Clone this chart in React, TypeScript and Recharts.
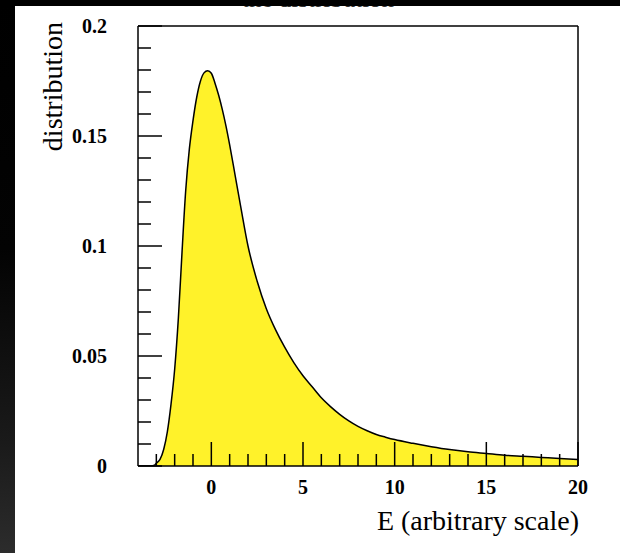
import React from 'react';
import { AreaChart, Area, XAxis, YAxis, ReferenceLine } from 'recharts';

const energy = [
  -4, -3.5, -3.3, -3.1, -3.0, -2.8, -2.6, -2.4, -2.2, -2.0, -1.8, -1.6, -1.4, -1.2, -1.0,
  -0.8, -0.6, -0.4, -0.2, 0.0, 0.2, 0.4, 0.6, 0.8, 1.0, 1.3, 1.6, 2.0, 2.5, 3.0, 3.5,
  4.0, 4.5, 5.0, 5.5, 6.0, 6.5, 7.0, 7.5, 8.0, 8.5, 9.0, 9.5, 10, 11, 12, 13, 14, 15,
  16, 17, 18, 19, 20,
];
const density = [
  0, 0, 0, 0.0004, 0.0013, 0.003, 0.0075, 0.0155, 0.028, 0.044, 0.067, 0.097, 0.125, 0.144, 0.157,
  0.1675, 0.1748, 0.1787, 0.1797, 0.1785, 0.174, 0.1685, 0.162, 0.1545, 0.146, 0.132, 0.118, 0.1, 0.084, 0.0715, 0.062,
  0.054, 0.047, 0.041, 0.036, 0.031, 0.027, 0.0235, 0.0205, 0.018, 0.016, 0.0143, 0.0131, 0.012, 0.0103, 0.0088, 0.0075, 0.0065, 0.0057,
  0.0049, 0.0044, 0.0039, 0.0034, 0.003,
];

const xTicks = [-3, -2, -1, 0, 1, 2, 3, 4, 5, 6, 7, 8, 9, 10, 11, 12, 13, 14, 15, 16, 17, 18, 19, 20];
const xLabels = [0, 5, 10, 15, 20];
const yTicks = [
  0, 0.01, 0.02, 0.03, 0.04, 0.05, 0.06, 0.07, 0.08, 0.09, 0.1,
  0.11, 0.12, 0.13, 0.14, 0.15, 0.16, 0.17, 0.18, 0.19, 0.2,
];
const yLabels = [0, 0.05, 0.1, 0.15, 0.2];
const yLabelText = ['0', '0.05', '0.1', '0.15', '0.2'];

const data = energy.map((e, i) => ({ e, d: density[i] }));

const FONT = '"Liberation Serif", "Times New Roman", serif';

const XTick = (props: any) => {
  const { x, y, payload } = props;
  const v = payload.value;
  const major = xLabels.some((l) => Math.abs(l - v) < 1e-9);
  return (
    <g>
      <line x1={x} x2={x} y1={y} y2={y - (major ? 24 : 12)} stroke="#000" strokeWidth={1.5} />
      {major && (
        <text x={x} y={y + 28} textAnchor="middle" fontFamily={FONT} fontSize={20} fontWeight="bold" fill="#000">
          {String(v)}
        </text>
      )}
    </g>
  );
};

const YTick = (props: any) => {
  const { x, y, payload } = props;
  const v = payload.value;
  const idx = yLabels.findIndex((l) => Math.abs(l - v) < 1e-9);
  const major = idx >= 0;
  return (
    <g>
      <line x1={x} x2={x + (major ? 24 : 13)} y1={y} y2={y} stroke="#000" strokeWidth={1.5} />
      {major && (
        <text x={x - 31} y={y + 7} textAnchor="end" fontFamily={FONT} fontSize={20} fontWeight="bold" fill="#000">
          {yLabelText[idx]}
        </text>
      )}
    </g>
  );
};

export default function App() {
  return (
    <div
      style={{
        position: 'absolute',
        left: 0,
        top: 0,
        width: 620,
        height: 553,
        background: '#fff',
        overflow: 'hidden',
      }}
    >
      <div style={{ position: 'absolute', left: 0, top: 0 }}>
        <AreaChart width={620} height={553} data={data} margin={{ top: 26, right: 42, bottom: 27, left: 38 }}>
          <Area
            type="monotone"
            dataKey="d"
            stroke="#000"
            strokeWidth={1.5}
            fill="#FFF22A"
            fillOpacity={1}
            isAnimationActive={false}
            dot={false}
            activeDot={false}
          />
          <ReferenceLine y={0.2} stroke="#000" strokeWidth={1.5} />
          <ReferenceLine x={20} stroke="#000" strokeWidth={1.5} />
          <XAxis
            type="number"
            dataKey="e"
            domain={[-4, 20]}
            allowDataOverflow
            ticks={xTicks}
            interval={0}
            tickSize={0}
            tickMargin={0}
            tickLine={false}
            tick={<XTick />}
            axisLine={{ stroke: '#000', strokeWidth: 1.5 }}
            height={60}
          />
          <YAxis
            type="number"
            domain={[0, 0.2]}
            allowDataOverflow
            ticks={yTicks}
            interval={0}
            tickSize={0}
            tickMargin={0}
            tickLine={false}
            tick={<YTick />}
            axisLine={{ stroke: '#000', strokeWidth: 1.5 }}
            width={100}
          />
        </AreaChart>
      </div>
      <svg width={620} height={553} style={{ position: 'absolute', left: 0, top: 0, pointerEvents: 'none' }}>
        <text x={242} y={7} fontFamily={FONT} fontSize={25} fill="#333">
          the distribution
        </text>
        <text
          x={62}
          y={22}
          transform="rotate(-90 62 22)"
          textAnchor="end"
          fontFamily={FONT}
          fontSize={28}
          fill="#000"
        >
          distribution
        </text>
        <text x={579} y={530} textAnchor="end" fontFamily={FONT} fontSize={28} fill="#000">
          E (arbitrary scale)
        </text>
      </svg>
      <div
        style={{
          position: 'absolute',
          left: 0,
          top: 0,
          width: 15,
          height: 553,
          background: 'linear-gradient(to bottom, #000 0%, #030303 45%, #1a1a1a 80%, #2c2c2c 100%)',
        }}
      />
      <div style={{ position: 'absolute', left: 0, top: 0, width: 620, height: 6, background: '#000' }} />
    </div>
  );
}
